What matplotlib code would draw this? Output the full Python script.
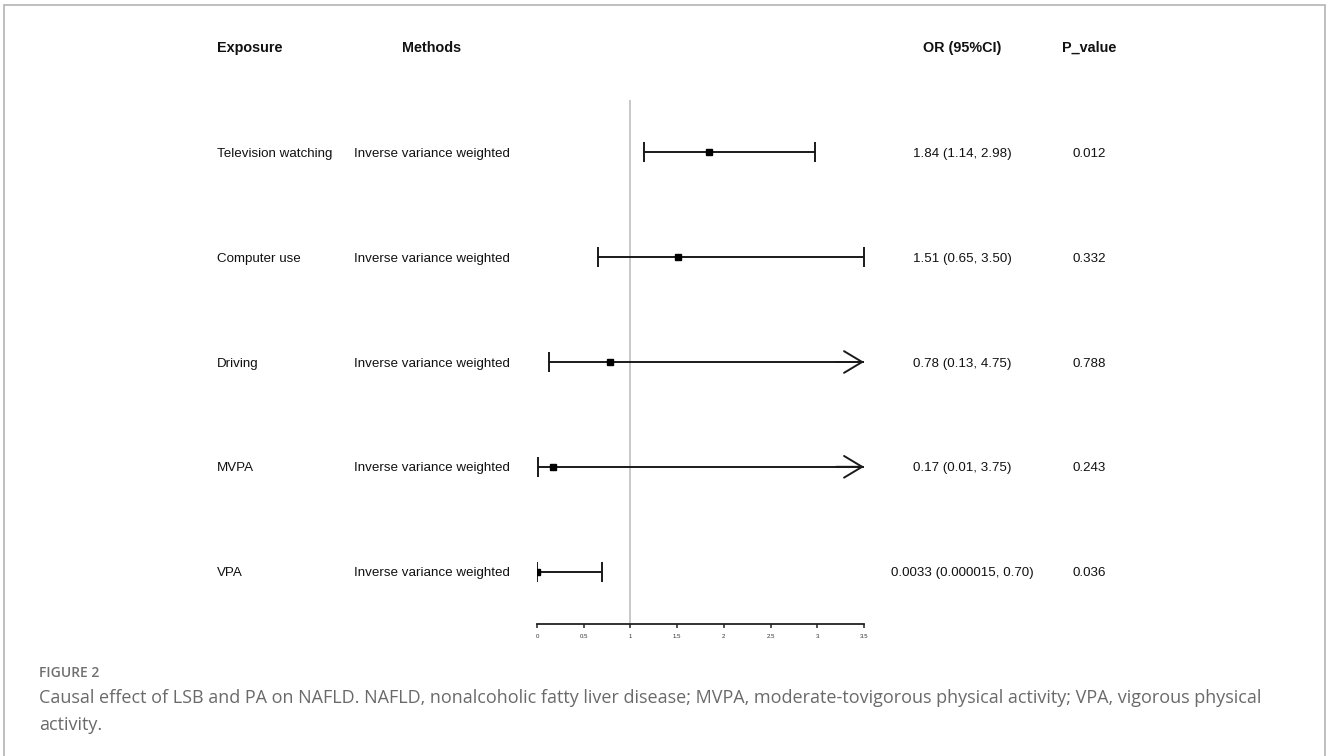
import matplotlib
matplotlib.use('Agg')
import matplotlib.pyplot as plt
import matplotlib.transforms as mtransforms
from matplotlib.patches import Rectangle

# forest plot table
exposures = ["Television watching", "Computer use", "Driving", "MVPA", "VPA"]
methods = ["Inverse variance weighted"] * 5
or_est = [1.84, 1.51, 0.78, 0.17, 0.0033]
ci_low = [1.14, 0.65, 0.13, 0.01, 0.000015]
ci_high = [2.98, 3.50, 4.75, 3.75, 0.70]
or_labels = ["1.84 (1.14, 2.98)", "1.51 (0.65, 3.50)", "0.78 (0.13, 4.75)",
             "0.17 (0.01, 3.75)", "0.0033 (0.000015, 0.70)"]
p_values = ["0.012", "0.332", "0.788", "0.243", "0.036"]
headers = ["Exposure", "Methods", "OR (95%CI)", "P_value"]
x_ticks = [0, 0.5, 1, 1.5, 2, 2.5, 3, 3.5]
x_max = 3.5

W, H = 1328, 756
fig = plt.figure(figsize=(W / 100, H / 100), dpi=100)
fig.patch.set_facecolor('white')

# page frame
fig.patches.append(Rectangle((4 / W, -0.05), (W - 7) / W, 1.05 - 5 / H,
                             transform=fig.transFigure, fill=False,
                             edgecolor='#b4b4b4', linewidth=1.2))

ax = fig.add_axes([537 / W, 1 - 624 / H, 327 / W, 524 / H])
ax.set_xlim(0, x_max)
ax.set_ylim(len(exposures) - 0.5, -0.5)
for s in ['top', 'right', 'left']:
    ax.spines[s].set_visible(False)
ax.spines['bottom'].set_linewidth(1.3)
ax.spines['bottom'].set_color('#222222')
ax.set_yticks([])
ax.set_xticks(x_ticks)
ax.set_xticklabels([f"{t:g}" for t in x_ticks], fontsize=4.4, color='#333333',
                   family='Liberation Sans')
ax.tick_params(axis='x', length=3, width=1.1, color='#222222', pad=4.5)

ax.axvline(1, color='#c4c4c4', linewidth=1.3, zorder=1)

line_kw = dict(color='#1a1a1a', linewidth=1.4, zorder=3)
for i, (est, lo, hi) in enumerate(zip(or_est, ci_low, ci_high)):
    if hi > x_max:
        # interval runs past the axis: open arrow at the edge
        ax.plot([lo, x_max], [i, i], **line_kw)
        ax.annotate('', xy=(x_max, i), xytext=(x_max - 0.3, i),
                    arrowprops=dict(arrowstyle='->,head_length=1.0,head_width=0.6',
                                    mutation_scale=13, color='#1a1a1a', lw=1.4,
                                    shrinkA=0, shrinkB=0), zorder=3)
        caps = [lo]
    else:
        ax.plot([lo, hi], [i, i], **line_kw)
        caps = [lo, hi]
    ax.plot(caps, [i] * len(caps), linestyle='none', marker='|', markersize=15,
            markeredgewidth=1.4, color='#1a1a1a', zorder=3)
    ax.plot([est], [i], linestyle='none', marker='s', markersize=4.6,
            color='black', zorder=4)

# table columns, rows share the axes' y scale
row_tf = mtransforms.blended_transform_factory(fig.transFigure, ax.transData)
col_exp, col_meth, col_or, col_p = 217 / W, 432 / W, 962 / W, 1089 / W
body = dict(fontsize=9.6, color='#111111', family='Liberation Sans',
            va='center', transform=row_tf)
for i in range(len(exposures)):
    fig.text(col_exp, i + 0.015, exposures[i], ha='left', **body)
    fig.text(col_meth, i + 0.015, methods[i], ha='center', **body)
    fig.text(col_or, i + 0.015, or_labels[i], ha='center', **body)
    fig.text(col_p, i + 0.015, p_values[i], ha='center', **body)

head_y = 1 - 48 / H
head = dict(fontsize=10.4, fontweight='bold', color='#111111',
            family='Liberation Sans', va='center')
fig.text(col_exp, head_y, headers[0], ha='left', **head)
fig.text(col_meth, head_y, headers[1], ha='center', **head)
fig.text(col_or, head_y, headers[2], ha='center', **head)
fig.text(col_p, head_y, headers[3], ha='center', **head)

# caption
fig.text(39 / W, 1 - 673 / H, "FIGURE 2", fontsize=10, fontweight='semibold',
         color='#707070', family='Open Sans', va='center', ha='left')
fig.text(39 / W, 1 - 698 / H,
         "Causal effect of LSB and PA on NAFLD. NAFLD, nonalcoholic fatty liver disease; "
         "MVPA, moderate-tovigorous physical activity; VPA, vigorous physical",
         fontsize=13.0, color='#6a6a6a', family='Open Sans', va='center', ha='left')
fig.text(39 / W, 1 - 725 / H, "activity.", fontsize=13.0, color='#6a6a6a',
         family='Open Sans', va='center', ha='left')

fig.savefig('out.png', dpi=100, facecolor='white')
